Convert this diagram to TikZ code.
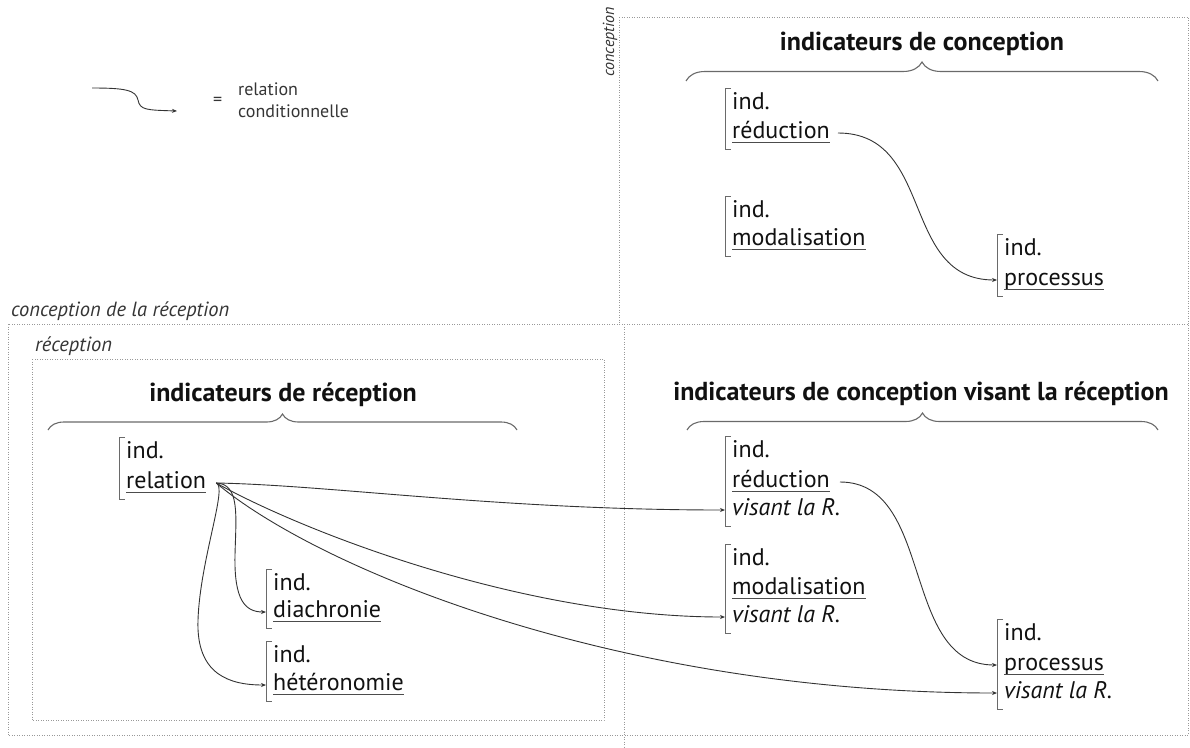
\documentclass[tikz,border=0pt]{standalone}
\usepackage{fontspec}
\setmainfont{PT Sans}
\usetikzlibrary{arrows.meta,decorations.pathreplacing}
\definecolor{inkc}{HTML}{111111}
\definecolor{linec}{HTML}{333333}
\definecolor{brkc}{HTML}{6A6A6A}
\definecolor{dotc}{HTML}{999999}
\tikzset{
  txt/.style={font=\fontsize{24}{29}\selectfont, inner sep=0pt, anchor=base west, text=inkc},
  itx/.style={txt, font=\itshape\fontsize{24}{29}\selectfont},
  ttl/.style={font=\bfseries\fontsize{26}{30}\selectfont, inner sep=0pt, anchor=base, text=inkc},
  lab/.style={font=\itshape\fontsize{20.5}{24}\selectfont, inner sep=0pt, anchor=base west, text=inkc!85},
  vlab/.style={lab, font=\itshape\fontsize{16}{19}\selectfont, rotate=90},
  leg/.style={font=\fontsize{18}{21}\selectfont, inner sep=0pt, anchor=base west, text=inkc!85},
  conn/.style={draw=linec, line width=0.9pt, -{Stealth[length=5pt,width=4pt]}},
  brk/.style={draw=brkc, line width=1pt},
  ulin/.style={draw=inkc!75, line width=0.9pt},
  dotl/.style={draw=dotc, line width=0.9pt, dash pattern=on 0.9pt off 1.6pt},
  brc/.style={draw=brkc, line width=1.1pt, decorate, decoration={brace, amplitude=#1}},
  brc/.default=18pt
}
\newcommand\drawbrk[2]{\draw[brk] ([shift={(-1pt,21pt)}]#1.base west) -- ([shift={(-7pt,21pt)}]#1.base west) -- ([shift={(-7pt,-11pt)}]#2.base west) -- ([shift={(-1pt,-11pt)}]#2.base west);}
\begin{document}
\begin{tikzpicture}[x=1pt,y=-1pt]
\useasboundingbox (0,0) rectangle (1190,747);
% dotted frames
\draw[dotl] (619,17) -- (1188,17) -- (1188,324);
\draw[dotl] (619,17) -- (619,324);
\draw[dotl] (8,324) rectangle (1188,735);
\draw[dotl] (624,324) -- (624,747);
\draw[dotl] (32,359) rectangle (604,720);
% frame labels
\node[vlab] (lc) at (614,77) {conception};
\node[lab] (lcr) at (11,316) {conception de la réception};
\node[lab] (lr) at (35,351) {réception};
% legend
\coordinate (lg1) at (92,88);
\coordinate (lg2) at (177,111);
\draw[conn] (lg1) .. controls (125,88) and (136,90) .. (138,100) .. controls (140,110) and (146,110) .. (lg2);
\node[leg] (eq) at (213,105) {=};
\node[leg] (lg3) at (238,95) {relation};
\node[leg] (lg4) at (238,117) {conditionnelle};
% titles and braces
\node[ttl] (t1) at (922,50) {indicateurs de conception};
\node[ttl] (t2) at (283,401) {indicateurs de réception};
\node[ttl] (t3) at (921,400) {indicateurs de conception visant la réception};
\draw[brc=19pt] (686,81) -- (1158,81);
\draw[brc=16pt] (48,430) -- (517,430);
\draw[brc=17pt] (687,430) -- (1158,430);
% conception
\node[txt] (r1a) at (732,109) {ind.};
\node[txt] (r1b) at (732,138) {réduction};
\node[txt] (m1a) at (732,217) {ind.};
\node[txt] (m1b) at (732,245) {modalisation};
\node[txt] (p1a) at (1004,255) {ind.};
\node[txt] (p1b) at (1004,285) {processus};
% conception visant la reception
\node[txt] (r2a) at (732,457) {ind.};
\node[txt] (r2b) at (732,487) {réduction};
\node[itx] (r2c) at (732,515) {visant la R.};
\node[txt] (m2a) at (732,565) {ind.};
\node[txt] (m2b) at (732,594) {modalisation};
\node[itx] (m2c) at (732,622) {visant la R.};
\node[txt] (p2a) at (1004,640) {ind.};
\node[txt] (p2b) at (1004,670) {processus};
\node[itx] (p2c) at (1004,698) {visant la R.};
% reception
\node[txt] (rla) at (126,458) {ind.};
\node[txt] (rlb) at (126,488) {relation};
\node[txt] (dia) at (273,590) {ind.};
\node[txt] (dib) at (273,617) {diachronie};
\node[txt] (hea) at (273,662) {ind.};
\node[txt] (heb) at (273,690) {hétéronomie};
% underlines
\foreach \n in {r1b,m1b,p1b,r2b,m2b,p2b,rlb,dib,heb}
  \draw[ulin] ([yshift=-4pt]\n.base west) -- ([yshift=-4pt]\n.base east);
% brackets
\drawbrk{r1a}{r1b}
\drawbrk{m1a}{m1b}
\drawbrk{p1a}{p1b}
\drawbrk{r2a}{r2c}
\drawbrk{m2a}{m2c}
\drawbrk{p2a}{p2c}
\drawbrk{rla}{rlb}
\drawbrk{dia}{dib}
\drawbrk{hea}{heb}
% connectors
\draw[conn] ([shift={(8pt,5pt)}]r1b.base east) .. controls (935,133) and (900,280) .. ([shift={(-7pt,5pt)}]p1b.base west);
\draw[conn] ([shift={(10pt,5pt)}]r2b.base east) .. controls (935,482) and (900,665) .. ([shift={(-7pt,5pt)}]p2b.base west);
\coordinate (rs) at ([shift={(10pt,5pt)}]rlb.base east);
\draw[conn] (rs) .. controls (330,485) and (500,510) .. ([shift={(-7pt,5pt)}]r2c.base west);
\draw[conn] (rs) .. controls (300,530) and (520,617) .. ([shift={(-7pt,5pt)}]m2c.base west);
\draw[conn] (rs) .. controls (320,570) and (620,693) .. ([shift={(-7pt,5pt)}]p2c.base west);
\draw[conn] (rs) .. controls (240,484) and (236,515) .. (235,555) .. controls (234,600) and (245,612) .. ([shift={(-7pt,5pt)}]dib.base west);
\draw[conn] (rs) .. controls (228,486) and (200,560) .. (198,620) .. controls (196,675) and (230,685) .. ([shift={(-7pt,5pt)}]heb.base west);
\end{tikzpicture}
\end{document}
